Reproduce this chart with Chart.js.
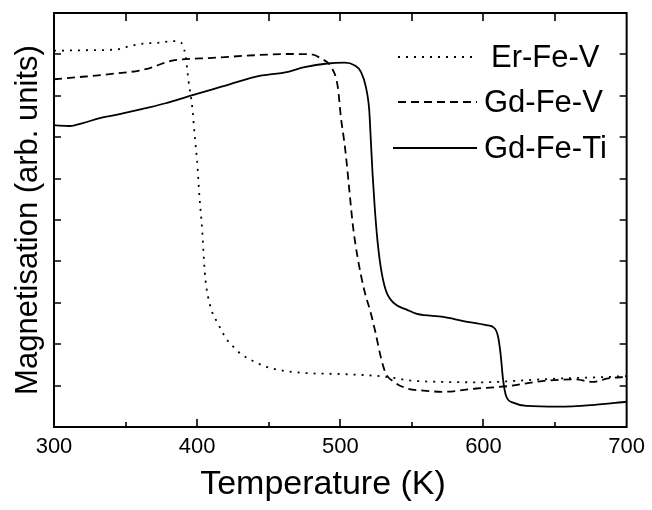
<!DOCTYPE html>
<html>
<head>
<meta charset="utf-8">
<script src="https://cdn.jsdelivr.net/npm/chart.js@4"></script>
<style>
  html, body { margin: 0; padding: 0; background: #fff; }
  canvas { display: block; }
</style>
</head>
<body>
<canvas id="magChart" width="652" height="510"></canvas>
<script>
// Er-Fe-V (dotted)
const erFeVTemp = [300, 320, 344, 352, 360, 372, 384, 388, 390, 392, 394, 396.5, 398.5, 400, 401.6, 403.5, 404.9, 405.8, 407.6, 410.7, 413.9, 416.9, 420.1, 425.2, 430.7, 436.5, 442.3, 448.5, 460, 477, 500, 530, 550, 570, 600, 620, 640, 660, 680, 700];
const erFeVMag  = [9.09, 9.10, 9.12, 9.19, 9.25, 9.28, 9.32, 9.30, 9.22, 8.94, 8.35, 7.75, 6.95, 6.41, 5.56, 4.76, 3.95, 3.55, 3.15, 2.75, 2.54, 2.34, 2.14, 1.94, 1.76, 1.64, 1.54, 1.45, 1.36, 1.30, 1.28, 1.22, 1.12, 1.09, 1.08, 1.11, 1.15, 1.18, 1.20, 1.23];

// Gd-Fe-V (dashed)
const gdFeVTemp = [300, 320, 343.5, 359.6, 368.8, 375.7, 382.7, 394, 408, 440, 463.5, 479.7, 486.6, 493.5, 498.2, 500.5, 502.3, 504, 506.3, 508.6, 512, 516.7, 521.3, 524.7, 528.2, 531.7, 537.5, 546.7, 558, 572, 595, 618, 641, 664, 676, 688, 700];
const gdFeVMag  = [8.40, 8.46, 8.54, 8.61, 8.69, 8.78, 8.85, 8.89, 8.91, 8.98, 9.01, 9.00, 8.90, 8.70, 8.22, 7.45, 7.01, 6.53, 5.72, 4.92, 4.11, 3.31, 2.75, 2.26, 1.70, 1.30, 1.09, 0.93, 0.88, 0.85, 0.93, 0.99, 1.11, 1.15, 1.09, 1.18, 1.21];

// Gd-Fe-Ti (solid)
const gdFeTiTemp = [300, 311, 320, 332, 343.5, 355, 366.5, 378, 389.6, 401, 417, 440.5, 463.5, 475, 491, 503, 509.8, 514.4, 517.8, 520.2, 521.3, 522.5, 524, 525.9, 528.2, 531.7, 537.5, 546.7, 553.6, 572, 586, 602, 607.9, 610.2, 611.9, 613.7, 616, 620.7, 630, 653, 676, 700];
const gdFeTiMag  = [7.29, 7.27, 7.34, 7.46, 7.54, 7.63, 7.72, 7.82, 7.94, 8.06, 8.22, 8.46, 8.58, 8.69, 8.78, 8.80, 8.74, 8.58, 8.22, 7.65, 6.93, 6.13, 5.32, 4.52, 3.87, 3.31, 2.99, 2.83, 2.73, 2.66, 2.56, 2.46, 2.38, 2.18, 1.78, 1.14, 0.73, 0.59, 0.51, 0.49, 0.53, 0.61];

const xTicks = [300, 400, 500, 600, 700];
const seriesNames = ['Er-Fe-V', 'Gd-Fe-V', 'Gd-Fe-Ti'];
const xTitle = 'Temperature (K)';

const FONT = '"Liberation Sans", Arial, Helvetica, sans-serif';

function toPoints(temps, mags) {
    return temps.map((t, i) => ({ x: t, y: mags[i] }));
}

const dashes = [[2, 6], [8, 5], []];

// marco y ticks hacia dentro
const frameTicks = {
    id: 'frameTicks',
    afterDraw(chart) {
        const { ctx, chartArea: a, scales: { x, y } } = chart;
        ctx.save();
        ctx.strokeStyle = '#000';
        ctx.lineWidth = 2;
        ctx.setLineDash([]);
        ctx.strokeRect(a.left, a.top, a.right - a.left, a.bottom - a.top);
        ctx.lineWidth = 1.6;
        ctx.beginPath();
        for (let v = 350; v < 700; v += 50) {
            const px = Math.round(x.getPixelForValue(v));
            const len = v % 100 === 0 ? 8 : 5;
            ctx.moveTo(px, a.bottom); ctx.lineTo(px, a.bottom - len);
            ctx.moveTo(px, a.top); ctx.lineTo(px, a.top + 8);
        }
        for (let v = 1; v < 10; v++) {
            const py = Math.round(y.getPixelForValue(v));
            ctx.moveTo(a.left, py); ctx.lineTo(a.left + 7, py);
            ctx.moveTo(a.right, py); ctx.lineTo(a.right - 7, py);
        }
        ctx.stroke();

        // título del eje x, algo desplazado a la izquierda como en el original
        ctx.font = '34px ' + FONT;
        ctx.fillStyle = '#000';
        ctx.textAlign = 'center';
        ctx.textBaseline = 'middle';
        ctx.fillText(xTitle, 323, 485);
        ctx.restore();
    }
};

// leyenda dentro del área del gráfico
const insideLegend = {
    id: 'insideLegend',
    afterDraw(chart) {
        const ctx = chart.ctx;
        const rows = [57, 102, 148];
        ctx.save();
        ctx.font = '31px ' + FONT;
        ctx.fillStyle = '#000';
        ctx.textBaseline = 'middle';
        ctx.textAlign = 'left';
        seriesNames.forEach((name, i) => {
            ctx.beginPath();
            ctx.strokeStyle = '#000';
            ctx.lineWidth = 1.8;
            ctx.setLineDash(dashes[i]);
            ctx.moveTo(i === 2 ? 393 : 398, rows[i]);
            ctx.lineTo(477, rows[i]);
            ctx.stroke();
            ctx.setLineDash([]);
            ctx.fillText(name, i === 0 ? 491 : 484, rows[i] + 1);
        });
        ctx.restore();
    }
};

const ds = (label, temps, mags, i) => ({
    label: label,
    data: toPoints(temps, mags),
    borderColor: '#000',
    borderWidth: 1.8,
    borderDash: dashes[i],
    pointRadius: 0,
    fill: false,
    cubicInterpolationMode: 'monotone'
});

new Chart(document.getElementById('magChart').getContext('2d'), {
    type: 'line',
    data: {
        datasets: [
            ds(seriesNames[0], erFeVTemp, erFeVMag, 0),
            ds(seriesNames[1], gdFeVTemp, gdFeVMag, 1),
            ds(seriesNames[2], gdFeTiTemp, gdFeTiMag, 2)
        ]
    },
    options: {
        responsive: false,
        animation: false,
        devicePixelRatio: 1,
        layout: { padding: { top: 13, right: 21, left: 0, bottom: 0 } },
        plugins: {
            legend: { display: false },
            tooltip: { enabled: false }
        },
        scales: {
            x: {
                type: 'linear',
                min: 300,
                max: 700,
                afterBuildTicks: s => { s.ticks = xTicks.map(v => ({ value: v })); },
                afterFit: s => { s.height = 83; },
                grid: { display: false, drawTicks: false },
                border: { display: false },
                ticks: { color: '#000', padding: 7, font: { family: FONT, size: 22 } },
                title: { display: false }
            },
            y: {
                min: 0,
                max: 10,
                afterFit: s => { s.width = 54; },
                grid: { display: false, drawTicks: false },
                border: { display: false },
                ticks: { display: false, stepSize: 1 },
                title: {
                    display: true,
                    text: 'Magnetisation (arb. units)',
                    color: '#000',
                    font: { family: FONT, size: 31, lineHeight: 1 },
                    padding: { top: 13, bottom: 0 }
                }
            }
        }
    },
    plugins: [frameTicks, insideLegend]
});
</script>
</body>
</html>
